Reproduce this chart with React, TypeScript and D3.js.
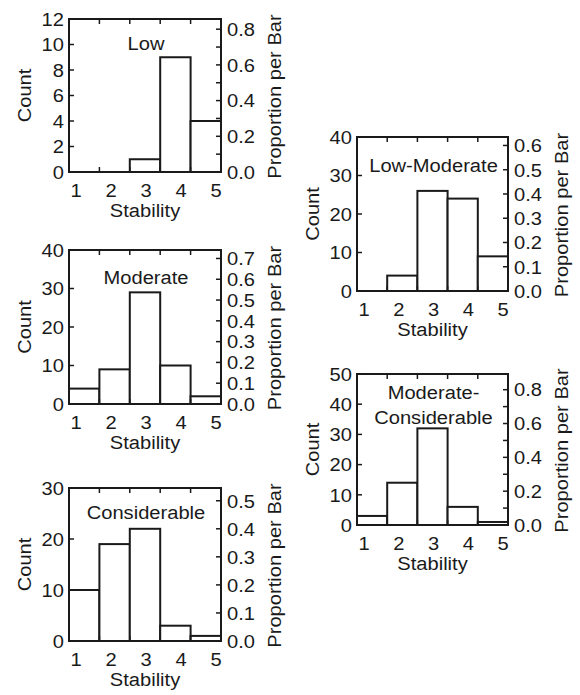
import React from "react";
import * as d3 from "d3";

// stability classes on x
const stability = ["1", "2", "3", "4", "5"];

// counts per stability class, one array per panel
const lowCounts = [0, 0, 1, 9, 4];
const lowModerateCounts = [0, 4, 26, 24, 9];
const moderateCounts = [4, 9, 29, 10, 2];
const moderateConsiderableCounts = [3, 14, 32, 6, 1];
const considerableCounts = [10, 19, 22, 3, 1];

// left (count) axis ticks
const lowCountTicks = [0, 2, 4, 6, 8, 10, 12];
const lowModerateCountTicks = [0, 10, 20, 30, 40];
const moderateCountTicks = [0, 10, 20, 30, 40];
const moderateConsiderableCountTicks = [0, 10, 20, 30, 40, 50];
const considerableCountTicks = [0, 10, 20, 30];

// right (proportion) axis ticks and labels
const lowPropTicks = [0, 0.1, 0.2, 0.3, 0.4, 0.5, 0.6, 0.7, 0.8];
const lowPropLabels = [0, 0.2, 0.4, 0.6, 0.8];
const lowModeratePropTicks = [0, 0.1, 0.2, 0.3, 0.4, 0.5, 0.6];
const moderatePropTicks = [0, 0.1, 0.2, 0.3, 0.4, 0.5, 0.6, 0.7];
const moderateConsiderablePropTicks = [0, 0.1, 0.2, 0.3, 0.4, 0.5, 0.6, 0.7, 0.8];
const moderateConsiderablePropLabels = [0, 0.2, 0.4, 0.6, 0.8];
const considerablePropTicks = [0, 0.1, 0.2, 0.3, 0.4, 0.5];

const INK = "#1a1a1a";
const FONT = "'Liberation Sans', Arial, Helvetica, sans-serif";
const FS = 19;
const SX = 1.06; // the source text is a touch wider than Arial

const Label = ({ x, y, anchor = "middle", rotate = 0, children }: any) => (
  <text
    transform={`translate(${x},${y})${rotate ? ` rotate(${rotate})` : ""} scale(${SX},1)`}
    textAnchor={anchor}
    dominantBaseline="central"
    fontFamily={FONT}
    fontSize={FS}
    fill={INK}
  >
    {children}
  </text>
);

const Panel = ({ left, top, width = 152, height = 153, counts, countTicks, propTicks, propLabels, title, titleDy }: any) => {
  const right = left + width;
  const bottom = top + height;
  const total = d3.sum(counts);
  const countMax = countTicks[countTicks.length - 1];

  const x = d3.scaleBand().domain(stability).range([left, right]).padding(0);
  const xLab = d3.scaleLinear().domain([1, 5]).range([left + 7, right - 5]);
  const y = d3.scaleLinear().domain([0, countMax]).range([bottom, top]);
  const yProp = d3.scaleLinear().domain([0, countMax / total]).range([bottom, top]);
  const fmt = d3.format(".1f");
  const labels = propLabels || propTicks;
  const edges = stability.slice(1).map((s) => x(s) as number);
  const TL = 5;

  return (
    <g>
      {counts.map((c: number, i: number) =>
        c > 0 ? (
          <rect
            key={i}
            x={x(stability[i])}
            y={y(c)}
            width={x.bandwidth()}
            height={bottom - y(c)}
            fill="white"
            stroke={INK}
            strokeWidth={2}
          />
        ) : null
      )}
      <rect x={left} y={top} width={width} height={height} fill="none" stroke={INK} strokeWidth={2} />
      {edges.map((e, i) => (
        <g key={i}>
          <line x1={e} x2={e} y1={top} y2={top + TL} stroke={INK} strokeWidth={1.5} />
          <line x1={e} x2={e} y1={bottom} y2={bottom - TL} stroke={INK} strokeWidth={1.5} />
        </g>
      ))}
      {countTicks.map((t: number) => (
        <g key={t}>
          <line x1={left} x2={left + TL} y1={y(t)} y2={y(t)} stroke={INK} strokeWidth={1.5} />
          <Label x={left - 5} y={y(t)} anchor="end">{t}</Label>
        </g>
      ))}
      {propTicks.map((t: number) => (
        <line key={t} x1={right - TL} x2={right} y1={yProp(t)} y2={yProp(t)} stroke={INK} strokeWidth={1.5} />
      ))}
      {labels.map((t: number) => (
        <Label key={t} x={right + 6} y={yProp(t)} anchor="start">{fmt(t)}</Label>
      ))}
      {stability.map((s) => (
        <Label key={s} x={xLab(+s)} y={bottom + 18}>{s}</Label>
      ))}
      <Label x={(left + right) / 2} y={bottom + 38}>Stability</Label>
      <Label x={left - 45} y={(top + bottom) / 2} rotate={-90}>Count</Label>
      <Label x={right + 53} y={(top + bottom) / 2 + 1} rotate={-90}>Proportion per Bar</Label>
      {title.map((line: string, i: number) => (
        <Label key={i} x={(left + right) / 2 + 1} y={top + titleDy[i]}>{line}</Label>
      ))}
    </g>
  );
};

export default function App() {
  return (
    <svg width={580} height={695} style={{ position: "absolute", left: 0, top: 0, background: "white" }}>
      <Panel left={69} top={19} counts={lowCounts} countTicks={lowCountTicks}
        propTicks={lowPropTicks} propLabels={lowPropLabels} title={["Low"]} titleDy={[24]} />
      <Panel left={357} top={137} width={151} height={154} counts={lowModerateCounts}
        countTicks={lowModerateCountTicks} propTicks={lowModeratePropTicks}
        title={["Low-Moderate"]} titleDy={[28]} />
      <Panel left={69} top={250} height={154} counts={moderateCounts} countTicks={moderateCountTicks}
        propTicks={moderatePropTicks} title={["Moderate"]} titleDy={[27]} />
      <Panel left={357} top={374} width={151} height={151} counts={moderateConsiderableCounts}
        countTicks={moderateConsiderableCountTicks} propTicks={moderateConsiderablePropTicks}
        propLabels={moderateConsiderablePropLabels} title={["Moderate-", "Considerable"]} titleDy={[18, 43]} />
      <Panel left={69} top={488} counts={considerableCounts} countTicks={considerableCountTicks}
        propTicks={considerablePropTicks} title={["Considerable"]} titleDy={[24]} />
    </svg>
  );
}
